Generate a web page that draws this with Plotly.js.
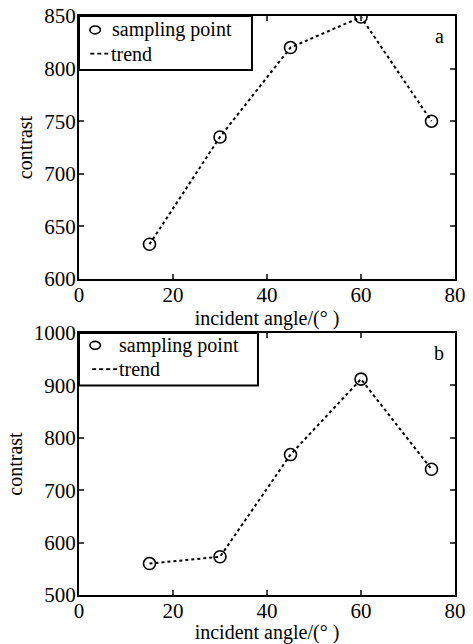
<!DOCTYPE html>
<html><head><meta charset="utf-8">
<script src="https://cdn.plot.ly/plotly-3.0.1.min.js"></script>
<style>html,body{margin:0;padding:0;background:#fff;}#chart{width:473px;height:644px;}</style>
</head><body><div id="chart"></div>
<script>
const angles = [15, 30, 45, 60, 75];
const contrastA = [633, 735, 820, 849, 750];
const contrastB = [560, 573, 768, 912, 740];
const xTicks = [0, 20, 40, 60, 80];
const yTicksA = [600, 650, 700, 750, 800, 850];
const yTicksB = [500, 600, 700, 800, 900, 1000];
const legendLabels = ['sampling point', 'trend'];
const panelLabels = ['a', 'b'];

const FAM = "Liberation Serif, 'Times New Roman', Times, serif";
const tickFont = {family: FAM, size: 21, color: '#000'};
const titleFont = {family: FAM, size: 20, color: '#000'};
const legFont = {family: FAM, size: 20, color: '#000'};
const mk = {symbol: 'circle-open', size: 12, color: '#000', line: {width: 1.6, color: '#000'}};
const ln = {color: '#000', width: 2, dash: '3px,3px'};

const traces = [
  {x: angles, y: contrastA, mode: 'lines', line: ln, xaxis: 'x', yaxis: 'y', showlegend: false},
  {x: angles, y: contrastA, mode: 'markers', marker: mk, xaxis: 'x', yaxis: 'y', showlegend: false},
  {x: angles, y: contrastB, mode: 'lines', line: ln, xaxis: 'x2', yaxis: 'y2', showlegend: false},
  {x: angles, y: contrastB, mode: 'markers', marker: mk, xaxis: 'x2', yaxis: 'y2', showlegend: false}
];

function xa(anchor) {
  return {range: [0, 80], tickvals: xTicks, ticktext: xTicks.map(String), ticks: 'inside', ticklen: 5, tickwidth: 2,
    showline: true, mirror: 'ticks', linewidth: 2, linecolor: '#000', showgrid: false, zeroline: false,
    anchor: anchor, tickfont: tickFont, ticklabelstandoff: -4,
    title: {text: 'incident angle/(° )', font: titleFont, standoff: 1}};
}
function ya(anchor, range, ticks, domain) {
  return {range: range, tickvals: ticks, ticktext: ticks.map(String), ticks: 'inside', ticklen: 5, tickwidth: 2,
    showline: true, mirror: 'ticks', linewidth: 2, linecolor: '#000', showgrid: false, zeroline: false,
    anchor: anchor, domain: domain, tickfont: tickFont, ticklabelstandoff: -3,
    title: {text: 'contrast', font: titleFont, standoff: 6}};
}

function legend(xr, yr, box, mkPos, dash, txt1, txt2) {
  const shapes = [
    {type: 'rect', xref: xr, yref: yr, x0: 0, x1: box[0], y0: box[1], y1: 1, line: {color: '#000', width: 2}, fillcolor: '#fff', layer: 'above'},
    {type: 'circle', xref: xr, yref: yr, x0: mkPos[0] - 0.014, x1: mkPos[0] + 0.014, y0: mkPos[1] - 0.015, y1: mkPos[1] + 0.015, line: {color: '#000', width: 1.6}, layer: 'above'},
    {type: 'line', xref: xr, yref: yr, x0: dash[0], x1: dash[1], y0: dash[2], y1: dash[2], line: {color: '#000', width: 1.6, dash: '4px,3px'}, layer: 'above'}
  ];
  const ann = [
    {text: legendLabels[0], xref: xr, yref: yr, x: txt1[0], y: txt1[1], xanchor: 'left', yanchor: 'middle', showarrow: false, font: legFont},
    {text: legendLabels[1], xref: xr, yref: yr, x: txt2[0], y: txt2[1], xanchor: 'left', yanchor: 'middle', showarrow: false, font: legFont}
  ];
  return {shapes, ann};
}
const L1 = legend('x domain', 'y domain', [0.46, 0.795], [0.043, 0.947], [0.03, 0.082, 0.857], [0.082, 0.947], [0.08, 0.857]);
const L2 = legend('x2 domain', 'y2 domain', [0.476, 0.80], [0.043, 0.953], [0.035, 0.104, 0.862], [0.1, 0.953], [0.1, 0.862]);

const layout = {
  width: 473, height: 644,
  margin: {l: 79, r: 18, t: 16, b: 49},
  paper_bgcolor: '#fff', plot_bgcolor: '#fff',
  font: titleFont,
  xaxis: xa('y'),
  yaxis: ya('x', [600, 850], yTicksA, [0.5458, 1]),
  xaxis2: xa('y2'),
  yaxis2: ya('x2', [500, 1000], yTicksB, [0, 0.4525]),
  showlegend: false,
  shapes: L1.shapes.concat(L2.shapes),
  annotations: L1.ann.concat(L2.ann).concat([
    {text: panelLabels[0], xref: 'x domain', yref: 'y domain', x: 0.975, y: 0.975, showarrow: false, font: legFont, xanchor: 'right', yanchor: 'top'},
    {text: panelLabels[1], xref: 'x2 domain', yref: 'y2 domain', x: 0.975, y: 0.975, showarrow: false, font: legFont, xanchor: 'right', yanchor: 'top'}
  ])
};

Plotly.newPlot('chart', traces, layout, {displayModeBar: false, staticPlot: true});
</script></body></html>
